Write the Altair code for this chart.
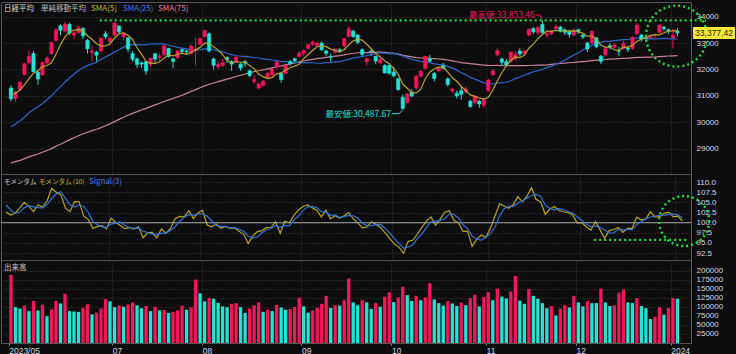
import altair as alt
import pandas as pd

# ---------------- data ----------------
# closes before the first displayed session (needed for SMA / momentum warm-up)
prior_close = [27584, 27670, 27427, 27602, 27501, 27696, 27513, 27531, 27473, 27104, 27453, 27423, 27445,
               27516, 27498, 27927, 28237, 28309, 28444, 28623, 28143, 27832, 27222, 27229, 27010, 27334,
               26945, 27466, 27419, 27385, 27476, 27518, 27883, 27782, 28041,
               28188, 28287, 27813, 27472, 27518, 27633, 27923, 28082, 28156, 28493, 28514, 28658, 28606,
               28657, 28564, 28593, 28620, 28416, 28457, 28856,
               29123, 29157, 28949, 29242, 29122, 29126, 29388, 29626, 29842, 30093, 30573, 30808, 31086,
               30957, 30682, 30801, 30916, 31233, 31328]

dates = ["2023/05/31",
         "06/01", "06/02", "06/05", "06/06", "06/07", "06/08", "06/09", "06/12", "06/13", "06/14", "06/15",
         "06/16", "06/19", "06/20", "06/21", "06/22", "06/23", "06/26", "06/27", "06/28", "06/29", "06/30",
         "07/03", "07/04", "07/05", "07/06", "07/07", "07/10", "07/11", "07/12", "07/13", "07/14", "07/18",
         "07/19", "07/20", "07/21", "07/24", "07/25", "07/26", "07/27", "07/28", "07/31",
         "08/01", "08/02", "08/03", "08/04", "08/07", "08/08", "08/09", "08/10", "08/14", "08/15", "08/16",
         "08/17", "08/18", "08/21", "08/22", "08/23", "08/24", "08/25", "08/28", "08/29", "08/30", "08/31",
         "09/01", "09/04", "09/05", "09/06", "09/07", "09/08", "09/11", "09/12", "09/13", "09/14", "09/15",
         "09/19", "09/20", "09/21", "09/22", "09/25", "09/26", "09/27", "09/28", "09/29",
         "10/02", "10/03", "10/04", "10/05", "10/06", "10/10", "10/11", "10/12", "10/13", "10/16", "10/17",
         "10/18", "10/19", "10/20", "10/23", "10/24", "10/25", "10/26", "10/27", "10/30", "10/31",
         "11/01", "11/02", "11/06", "11/07", "11/08", "11/09", "11/10", "11/13", "11/14", "11/15", "11/16",
         "11/17", "11/20", "11/21", "11/22", "11/24", "11/27", "11/28", "11/29", "11/30",
         "12/01", "12/04", "12/05", "12/06", "12/07", "12/08", "12/11", "12/12", "12/13", "12/14", "12/15",
         "12/18", "12/19", "12/20", "12/21", "12/22", "12/25", "12/26", "12/27", "12/28", "12/29",
         "2024/01/04", "01/05"]

opens = [31300, 30900, 31250, 31800, 32250, 32600, 31900, 31800, 32250, 32600, 33100, 33650, 33450, 33700,
         33300, 33400, 33550, 33100, 32650, 32650, 32700, 33350, 33050,
         33300, 33650, 33250, 33200, 32600, 32400, 32250, 32300, 32200, 32600, 32450, 32550, 32800, 32400,
         32450, 32750, 32700, 32600, 32700, 32950,
         33250, 33350, 32400, 32100, 32150, 32450, 32300, 32300, 32200, 32300, 31950, 31550, 31300, 31400,
         31700, 31800, 32100, 31850, 31850, 32300, 32400, 32500,
         32600, 32800, 32950, 32900, 33000, 32700, 32500, 32650, 32750, 32900, 33250, 33450, 33300, 32750,
         32300, 32700, 32500, 32250, 32150, 32150,
         31900, 31650, 30950, 30750, 31150, 31300, 31750, 32050, 32400, 31850, 31950, 32150, 31650, 31200,
         31100, 31200, 31150, 30800, 30750, 30800, 30650,
         31200, 31800, 32550, 32400, 32300, 32300, 32400, 32700, 32600, 33300, 33550, 33400, 33700, 33300,
         33350, 33550, 33600, 33500, 33450, 33300,
         33500, 33300, 33000, 33000, 33200, 32500, 32550, 32900, 32850, 32700, 32800, 32800, 32800, 33350,
         33300, 33200, 33200, 33300, 33400, 33600, 33500,
         33200, 33450]
highs = [31400, 31200, 31560, 32250, 32710, 32700, 31980, 32300, 32500, 33050, 33550, 33700, 33800, 33770,
         33450, 33650, 33600, 33150, 32900, 32700, 33200, 33450, 33250,
         33780, 33650, 33400, 33200, 32700, 32450, 32300, 32320, 32450, 32600, 32600, 32950, 32800, 32450,
         32720, 32800, 32750, 32950, 33200, 33200,
         33490, 33400, 32450, 32300, 32400, 32500, 32350, 32500, 32250, 32350, 32000, 31800, 31500, 31600,
         31900, 32050, 32300, 31900, 32200, 32350, 32450, 32700,
         32750, 32950, 33080, 33050, 33050, 32750, 32600, 32800, 32800, 33200, 33630, 33500, 33350, 32800,
         32450, 32750, 32500, 32550, 32200, 32250,
         32100, 31700, 31050, 31100, 31250, 31800, 31950, 32500, 32550, 31900, 32100, 32250, 31700, 31300,
         31200, 31350, 31350, 30850, 31050, 30850, 30900,
         31650, 32000, 32800, 32450, 32400, 32700, 32700, 32800, 32750, 33550, 33600, 33650, 33853.46, 33450,
         33500, 33700, 33650, 33550, 33500, 33550,
         33550, 33350, 33050, 33480, 33200, 32550, 32850, 33000, 33000, 32850, 33100, 32900, 33250, 33750,
         33350, 33250, 33300, 33350, 33700, 33650, 33550,
         33550, 33570]
lows = [30800, 30800, 31200, 31780, 32200, 31900, 31420, 31750, 32200, 32550, 33050, 33300, 33400, 33300,
        33150, 33350, 33150, 32600, 32300, 32300, 32650, 33150, 32900,
        33250, 33350, 33100, 32650, 32300, 32050, 32050, 31800, 32100, 32250, 32300, 32500, 32450, 32050,
        32400, 32600, 32550, 32550, 32150, 32950,
        33200, 32650, 32000, 32000, 32100, 32250, 31950, 32250, 31950, 32100, 31700, 31450, 31250, 31350,
        31650, 31700, 32000, 31500, 31850, 32150, 32250, 32450,
        32500, 32750, 32900, 32850, 32700, 32500, 32300, 32600, 32650, 32850, 33200, 33200, 32950, 32500,
        32150, 32500, 32200, 32200, 31850, 31800,
        31700, 31200, 30487.67, 30700, 30950, 31250, 31700, 32000, 32250, 31550, 31900, 32000, 31350, 31100,
        30900, 30850, 31100, 30550, 30700, 30550, 30550,
        31150, 31750, 32500, 32150, 32100, 32250, 32350, 32500, 32550, 33250, 33350, 33300, 33350, 33200,
        33300, 33450, 33400, 33300, 33200, 33250,
        33350, 33150, 32650, 32950, 32800, 32200, 32500, 32750, 32800, 32500, 32750, 32650, 32750, 33300,
        33050, 33050, 33150, 33200, 33380, 33450, 33350,
        32800, 33250]
closes = [30888, 31148, 31524, 32217, 32506, 31913, 31641, 32265, 32434, 33018, 33502, 33485, 33706, 33370,
          33388, 33575, 33264, 32781, 32698, 32538, 33193, 33234, 33189,
          33753, 33422, 33338, 32773, 32388, 32189, 32203, 31943, 32419, 32391, 32493, 32896, 32490, 32304,
          32700, 32682, 32668, 32891, 32759, 33172,
          33476, 32707, 32159, 32192, 32254, 32377, 32204, 32473, 32059, 32238, 31766, 31626, 31450, 31565,
          31856, 32010, 32287, 31624, 32169, 32227, 32333, 32619,
          32710, 32939, 33036, 32991, 32750, 32606, 32467, 32776, 32706, 33168, 33533, 33242, 33023, 32571,
          32402, 32678, 32315, 32371, 31872, 31857,
          31759, 31238, 30526, 31075, 30994, 31746, 31936, 32494, 32315, 31659, 32040, 32042, 31430, 31259,
          30999, 31062, 31269, 30601, 30991, 30696, 30859,
          31601, 31950, 32708, 32272, 32166, 32646, 32568, 32585, 32696, 33519, 33424, 33585, 33388, 33354,
          33452, 33625, 33447, 33408, 33321, 33486,
          33431, 33231, 32775, 33445, 32858, 32307, 32791, 32843, 32926, 32686, 32970, 32759, 33219, 33675,
          33141, 33169, 33255, 33305, 33682, 33540, 33464,
          33288, 33377.42]
volumes = [188000, 99000, 95000, 103000, 88000, 116000, 90000, 106000, 74000, 93000, 116000, 109000, 136000,
           88000, 87000, 86000, 97000, 107000, 79000, 84000, 95000, 121000, 115000,
           99000, 103000, 100000, 106000, 112000, 104000, 96000, 102000, 88000, 100000, 90000, 91000, 83000,
           86000, 90000, 103000, 92000, 98000, 175000, 137000,
           115000, 124000, 122000, 111000, 101000, 99000, 108000, 110000, 99000, 83000, 95000, 104000, 112000,
           86000, 92000, 88000, 105000, 98000, 92000, 94000, 100000, 125000,
           101000, 84000, 90000, 97000, 108000, 130000, 97000, 104000, 103000, 118000, 178000, 112000, 104000,
           118000, 112000, 94000, 110000, 100000, 128000, 140000,
           113000, 126000, 155000, 132000, 116000, 130000, 118000, 126000, 165000, 120000, 110000, 103000,
           115000, 109000, 102000, 111000, 104000, 124000, 133000, 101000, 127000,
           140000, 118000, 150000, 128000, 123000, 142000, 185000, 117000, 108000, 149000, 130000, 122000,
           110000, 96000, 102000, 76000, 95000, 104000, 98000, 130000,
           112000, 101000, 115000, 110000, 110000, 150000, 112000, 102000, 104000, 139000, 147000, 112000,
           110000, 124000, 102000, 96000, 66000, 72000, 99000, 78000, 96000,
           124000, 122000]

month_starts = [0, 23, 43, 65, 85, 106, 126, 147]
month_labels = ["2023/05", "07", "08", "09", "10", "11", "12", "2024"]
price_ticks = [29000, 30000, 31000, 32000, 33000, 34000]
mom_ticks = [92.5, 95, 97.5, 100, 102.5, 105, 107.5, 110]
vol_ticks = [25000, 50000, 75000, 100000, 125000, 150000, 175000, 200000]

high_label = "最高値:33,853.46"
low_label = "最安値:30,487.67"
last_label = "33,377.42"

# ---------------- derived indicators ----------------
n_prior = len(prior_close)
allc = pd.Series(prior_close + closes, dtype=float)
sma5 = allc.rolling(5).mean().iloc[n_prior:].reset_index(drop=True)
sma25 = allc.rolling(25).mean().iloc[n_prior:].reset_index(drop=True)
sma75 = allc.rolling(75).mean().iloc[n_prior:].reset_index(drop=True)
mom_all = allc / allc.shift(10) * 100
sig_all = mom_all.rolling(3).mean()
mom = mom_all.iloc[n_prior:].reset_index(drop=True)
sig = sig_all.iloc[n_prior:].reset_index(drop=True)

N = len(closes)
df = pd.DataFrame({
    "i": list(range(N)), "date": dates, "open": opens, "high": highs, "low": lows,
    "close": closes, "vol": volumes, "sma5": sma5, "sma25": sma25, "sma75": sma75,
    "mom": mom, "sig": sig,
})
df["dir"] = ["up" if c > o else "down" for o, c in zip(opens, closes)]
vdir = ["up"]
for k in range(1, N):
    vdir.append("up" if volumes[k] > volumes[k - 1] else "down")
df["vdir"] = vdir

# ---------------- style ----------------
RED = "#f5155a"
CYAN = "#22e3d6"
GREEN = "#22e03a"
BG = "#0d0d0d"
GRID = "#3c3c3c"
LAB = "#d0d8ee"
JP = "Noto Sans CJK JP"
NUM = "Liberation Sans"
W = 690

tick_pos = [m - 0.5 for m in month_starts]
xscale = alt.Scale(domain=[-1.1, 149.9], nice=False, zero=False)
grid_op = {"condition": {"test": "datum.value < 0", "value": 0}, "value": 1}

label_expr = ""
for p, lab in zip(tick_pos, month_labels):
    label_expr += f"abs(datum.value - ({p})) < 0.1 ? '{lab}' : "
label_expr += "''"

X_HID = alt.Axis(values=tick_pos, labels=False, ticks=False, domain=False, title=None, grid=True,
                 gridColor=GRID, gridDash=[1, 2], gridOpacity=grid_op)
X_BOT = alt.Axis(values=tick_pos, labelExpr=label_expr, title=None, grid=True, gridColor=GRID,
                 gridDash=[1, 2], gridOpacity=grid_op, labelAlign="left", labelBaseline="top",
                 labelPadding=1, tickSize=2, tickColor="#888", domain=True, domainColor="#555",
                 labelFontSize=8.5, labelColor=LAB, labelFont=NUM, labelOverlap=False, labelFlush=False,
                 labelBound=False)


def yaxis(values, fmt):
    return alt.Axis(orient="right", values=values, format=fmt, title=None, ticks=False, domain=True,
                    domainColor="#5a5a5a", grid=True, gridColor=GRID, gridDash=[1, 2],
                    labelColor=LAB, labelFontSize=8, labelFont=NUM, labelPadding=5,
                    labelOverlap=False, labelBound=False, labelFlush=False)


def txt(text, x, y, color, size=8, font=JP):
    return alt.Chart(pd.DataFrame({"t": [text]})).mark_text(
        align="left", baseline="middle", fontSize=size, font=font, color=color
    ).encode(x=alt.value(x), y=alt.value(y), text="t:N")


col = alt.Color("dir:N", scale=alt.Scale(domain=["up", "down"], range=[RED, CYAN]), legend=None)
stk = alt.Stroke("dir:N", scale=alt.Scale(domain=["up", "down"], range=[RED, CYAN]), legend=None)

# ---------------- price panel ----------------
ydom = alt.Scale(domain=[28050, 34550], nice=False, zero=False)
YA = yaxis(price_ticks, "d")
XP = lambda f: alt.X(f, scale=xscale, axis=X_HID)
YP = lambda f: alt.Y(f, scale=ydom, axis=YA)
base = alt.Chart(df)
wick = base.mark_rule(strokeWidth=1).encode(x=XP("i:Q"), y=YP("low:Q"), y2="high:Q", color=col)
body = base.mark_bar(width=3.3, strokeWidth=0.6).encode(
    x=XP("i:Q"), y=YP("open:Q"), y2="close:Q", color=col, stroke=stk)
l75 = base.mark_line(color="#c9849a", strokeWidth=1.2).encode(x=XP("i:Q"), y=YP("sma75:Q"))
l25 = base.mark_line(color="#2d66d0", strokeWidth=1.2).encode(x=XP("i:Q"), y=YP("sma25:Q"))
l5 = base.mark_line(color="#b7a52a", strokeWidth=1.2).encode(x=XP("i:Q"), y=YP("sma5:Q"))

hi_idx = highs.index(max(highs))
lo_idx = lows.index(min(lows))
hi_val = max(highs)
lo_val = min(lows)

green_h = alt.Chart(pd.DataFrame({"a": [19.7], "b": [154.3], "v": [hi_val]})).mark_rule(
    color=GREEN, strokeWidth=2.2, strokeDash=[2, 3]).encode(x=XP("a:Q"), x2="b:Q", y=YP("v:Q"))
green_c = alt.Chart(pd.DataFrame({"a": [147.8], "v": [33260]})).mark_point(
    shape="circle", size=3720, filled=False, color=GREEN, strokeWidth=2.4, strokeDash=[2, 3], opacity=1
).encode(x=XP("a:Q"), y=YP("v:Q"))

hi_text = alt.Chart(pd.DataFrame({"a": [hi_idx - 1.7], "v": [34060], "t": [high_label]})).mark_text(
    align="right", baseline="middle", fontSize=8.5, font=JP, color=RED
).encode(x=XP("a:Q"), y=YP("v:Q"), text="t:N")
hi_lead = alt.Chart(pd.DataFrame({"a": [hi_idx - 1.5, hi_idx - 0.5, hi_idx],
                                  "v": [34060, 34060, hi_val + 10], "o": [0, 1, 2]})).mark_line(
    color=RED, strokeWidth=1).encode(x=XP("a:Q"), y=YP("v:Q"), order="o:Q")
lo_text = alt.Chart(pd.DataFrame({"a": [lo_idx - 2.6], "v": [30330], "t": [low_label]})).mark_text(
    align="right", baseline="middle", fontSize=8.5, font=JP, color=CYAN
).encode(x=XP("a:Q"), y=YP("v:Q"), text="t:N")
lo_lead = alt.Chart(pd.DataFrame({"a": [lo_idx - 2.4, lo_idx - 0.8, lo_idx],
                                  "v": [30330, 30330, lo_val - 10], "o": [0, 1, 2]})).mark_line(
    color=CYAN, strokeWidth=1).encode(x=XP("a:Q"), y=YP("v:Q"), order="o:Q")

last_box = alt.Chart(pd.DataFrame({"v": [closes[-1]]})).mark_point(
    shape="M-1,-0.29L1,-0.29L1,0.29L-1,0.29Z", size=1764, filled=True, color="#f4e93a", opacity=1
).encode(x=alt.value(713), y=YP("v:Q"))
last_txt = alt.Chart(pd.DataFrame({"v": [closes[-1]], "t": [last_label]})).mark_text(
    align="center", baseline="middle", fontSize=8.5, font=NUM, color="#1a1a1a"
).encode(x=alt.value(713), y=YP("v:Q"), text="t:N")

price = alt.layer(
    wick, green_h, l75, l25, body, l5, hi_lead, hi_text, lo_lead, lo_text, green_c, last_box, last_txt,
    txt("日経平均", 3, 7, "#d8d8d8", 7.5), txt("単純移動平均", 40, 7, "#bdbdbd", 7.5),
    txt("SMA(5)", 90, 7, "#c8b42a"), txt("SMA(25)", 122, 7, "#3b7ae6"), txt("SMA(75)", 157, 7, "#e07a96"),
).properties(width=W, height=172)

# ---------------- momentum panel ----------------
mscale = alt.Scale(domain=[90.8, 112.0], nice=False, zero=False)
MA = yaxis(mom_ticks, ".1f")
YM = lambda f: alt.Y(f, scale=mscale, axis=MA)
mbase = alt.Chart(df)
mline = mbase.mark_line(color="#b8a61c", strokeWidth=1.2).encode(x=XP("i:Q"), y=YM("mom:Q"))
sline = mbase.mark_line(color="#2f74dc", strokeWidth=1.2).encode(x=XP("i:Q"), y=YM("sig:Q"))
zero = alt.Chart(pd.DataFrame({"v": [100]})).mark_rule(color="#a0a0a0", strokeWidth=1).encode(y=YM("v:Q"))
mg_h = alt.Chart(pd.DataFrame({"a": [128.7], "b": [149.3], "v": [95.75]})).mark_rule(
    color=GREEN, strokeWidth=2.2, strokeDash=[2, 3]).encode(x=XP("a:Q"), x2="b:Q", y=YM("v:Q"))
mg_c = alt.Chart(pd.DataFrame({"a": [148.4], "v": [100.4]})).mark_point(
    shape="circle", size=2500, filled=False, color=GREEN, strokeWidth=2.4, strokeDash=[2, 3], opacity=1
).encode(x=XP("a:Q"), y=YM("v:Q"))
momentum = alt.layer(
    mline, zero, sline, mg_h, mg_c,
    txt("モメンタム", 3, 8, "#c8c8c8", 6.5), txt("モメンタム (10)", 38, 8, "#c8b42a", 6.5),
    txt("Signal(3)", 88, 8, "#3b7ae6"),
).properties(width=W, height=86)

# ---------------- volume panel ----------------
vscale = alt.Scale(domain=[0, 229000], nice=False, zero=True)
vbars = alt.Chart(df).mark_bar(width=3.3).encode(
    x=alt.X("i:Q", scale=xscale, axis=X_BOT),
    y=alt.Y("vol:Q", scale=vscale, axis=yaxis(vol_ticks, "d")),
    color=alt.Color("vdir:N", scale=alt.Scale(domain=["up", "down"], range=[RED, CYAN]), legend=None))
volume = alt.layer(vbars, txt("出来高", 3, 8, "#c8c8c8", 7.5)).properties(width=W, height=83)

chart = alt.vconcat(price, momentum, volume, spacing=0, bounds="flush").resolve_scale(
    y="independent", color="independent", stroke="independent"
).configure(background=BG, padding=0).configure_view(stroke="#555", strokeWidth=1).configure_axis(
    labelOverlap=False)

chart.save("out.html", embed_options={"renderer": "svg", "actions": False})
